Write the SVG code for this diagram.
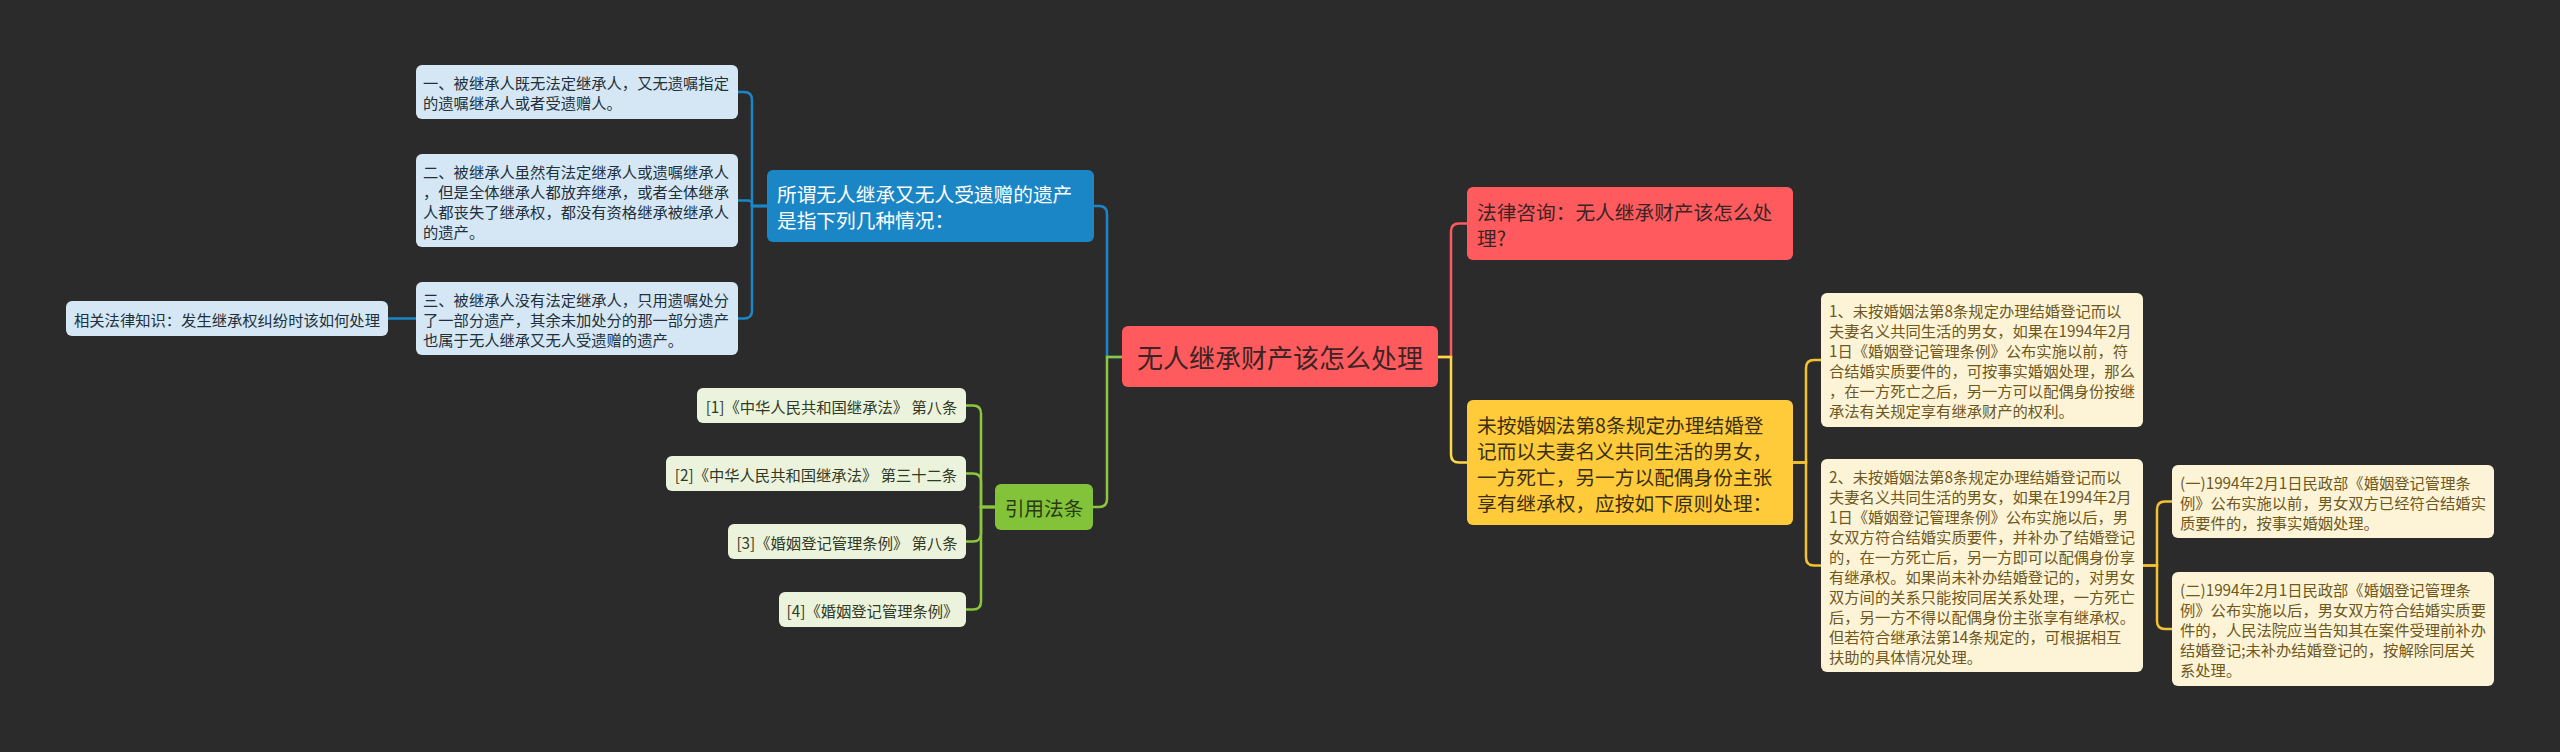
<svg xmlns="http://www.w3.org/2000/svg" width="2560" height="752" viewBox="0 0 2560 752">
<style>
text{font-family:"Noto Sans CJK SC","Noto Sans",sans-serif;dominant-baseline:central}
.s{font-size:15.3px}
.m{font-size:19.7px}
.c{font-size:26px}
.lb rect{fill:#d5e7f5}
.lb text{fill:#22303b}
.cr rect{fill:#fdf4d8}
.cr text{fill:#6e581c}
.ct rect{fill:#ebf3dd}
.ct text{fill:#323a26}
.conn path{fill:none;stroke-width:2.5}
</style>
<rect x="0" y="0" width="2560" height="752" fill="#2b2b2b"/>
<g class="conn">
<path d="M1438 357 H1451 V231.5 Q1451 223.5 1459 223.5 H1467" stroke="#ff5a5f"/>
<path d="M1438 357 H1451 V454.5 Q1451 462.5 1459 462.5 H1467" stroke="#ffd84a"/>
<path d="M1793 462.5 H1806 V368 Q1806 360 1814 360 H1821" stroke="#f2c233"/>
<path d="M1793 462.5 H1806 V557.5 Q1806 565.5 1814 565.5 H1821" stroke="#f2c233"/>
<path d="M2143 565.5 H2157 V509.5 Q2157 501.5 2165 501.5 H2172" stroke="#f2c233"/>
<path d="M2143 565.5 H2157 V621 Q2157 629 2165 629 H2172" stroke="#f2c233"/>
<path d="M1122 357 H1107 V214 Q1107 206 1099 206 H1094" stroke="#1b86c6"/>
<path d="M1122 357 H1107 V499 Q1107 507 1099 507 H1093" stroke="#8cc63f"/>
<path d="M767 206 H752 V100 Q752 92 744 92 H738" stroke="#1b86c6"/>
<path d="M767 206 H752 V204 Q752 200.5 748 200.5 H738" stroke="#1b86c6"/>
<path d="M767 206 H752 V310.5 Q752 318.5 744 318.5 H738" stroke="#1b86c6"/>
<path d="M416 318.5 H388" stroke="#1b86c6"/>
<path d="M995 507 H981 V413.5 Q981 405.5 973 405.5 H966" stroke="#8cc63f"/>
<path d="M995 507 H981 V481.5 Q981 473.5 973 473.5 H966" stroke="#8cc63f"/>
<path d="M995 507 H981 V533.5 Q981 541.5 973 541.5 H966" stroke="#8cc63f"/>
<path d="M995 507 H981 V601.5 Q981 609.5 973 609.5 H966" stroke="#8cc63f"/>
</g>
<g id="root">
<rect x="1122" y="326" width="316" height="61" rx="6" fill="#ff5b5e"/>
<text class="c" x="1280" y="356.5" text-anchor="middle" fill="#3a2424">无人继承财产该怎么处理</text>
</g>
<g id="n-consult">
<rect x="1467" y="187" width="326" height="73" rx="6" fill="#ff5b5e"/>
<text class="m" fill="#3a2424"><tspan x="1477" y="210.5">法律咨询：无人继承财产该怎么处</tspan><tspan x="1477" y="236.5">理?</tspan></text>
</g>
<g id="n-yellow">
<rect x="1467" y="400" width="326" height="125" rx="6" fill="#ffcb3b"/>
<text class="m" fill="#3b2f12"><tspan x="1477" y="423.5">未按婚姻法第8条规定办理结婚登</tspan><tspan x="1477" y="449.5">记而以夫妻名义共同生活的男女，</tspan><tspan x="1477" y="475.5">一方死亡，另一方以配偶身份主张</tspan><tspan x="1477" y="501.5">享有继承权，应按如下原则处理：</tspan></text>
</g>
<g id="n-c1" class="cr">
<rect x="1821" y="293" width="322" height="134" rx="6"/>
<text class="s"><tspan x="1829" y="310">1、未按婚姻法第8条规定办理结婚登记而以</tspan><tspan x="1829" y="330">夫妻名义共同生活的男女，如果在1994年2月</tspan><tspan x="1829" y="350">1日《婚姻登记管理条例》公布实施以前，符</tspan><tspan x="1829" y="370">合结婚实质要件的，可按事实婚姻处理，那么</tspan><tspan x="1829" y="390">，在一方死亡之后，另一方可以配偶身份按继</tspan><tspan x="1829" y="410">承法有关规定享有继承财产的权利。</tspan></text>
</g>
<g id="n-c2" class="cr">
<rect x="1821" y="459" width="322" height="213" rx="6"/>
<text class="s"><tspan x="1829" y="475.5">2、未按婚姻法第8条规定办理结婚登记而以</tspan><tspan x="1829" y="495.5">夫妻名义共同生活的男女，如果在1994年2月</tspan><tspan x="1829" y="515.5">1日《婚姻登记管理条例》公布实施以后，男</tspan><tspan x="1829" y="535.5">女双方符合结婚实质要件，并补办了结婚登记</tspan><tspan x="1829" y="555.5">的，在一方死亡后，另一方即可以配偶身份享</tspan><tspan x="1829" y="575.5">有继承权。如果尚未补办结婚登记的，对男女</tspan><tspan x="1829" y="595.5">双方间的关系只能按同居关系处理，一方死亡</tspan><tspan x="1829" y="615.5">后，另一方不得以配偶身份主张享有继承权。</tspan><tspan x="1829" y="635.5">但若符合继承法第14条规定的，可根据相互</tspan><tspan x="1829" y="655.5">扶助的具体情况处理。</tspan></text>
</g>
<g id="n-c2a" class="cr">
<rect x="2172" y="465" width="322" height="73" rx="6"/>
<text class="s"><tspan x="2180" y="481.5">(一)1994年2月1日民政部《婚姻登记管理条</tspan><tspan x="2180" y="501.5">例》公布实施以前，男女双方已经符合结婚实</tspan><tspan x="2180" y="521.5">质要件的，按事实婚姻处理。</tspan></text>
</g>
<g id="n-c2b" class="cr">
<rect x="2172" y="572" width="322" height="114" rx="6"/>
<text class="s"><tspan x="2180" y="589">(二)1994年2月1日民政部《婚姻登记管理条</tspan><tspan x="2180" y="609">例》公布实施以后，男女双方符合结婚实质要</tspan><tspan x="2180" y="629">件的，人民法院应当告知其在案件受理前补办</tspan><tspan x="2180" y="649">结婚登记;未补办结婚登记的，按解除同居关</tspan><tspan x="2180" y="669">系处理。</tspan></text>
</g>
<g id="n-blue">
<rect x="767" y="170" width="327" height="72" rx="6" fill="#1b86c6"/>
<text class="m" fill="#ffffff"><tspan x="777" y="193">所谓无人继承又无人受遗赠的遗产</tspan><tspan x="777" y="219">是指下列几种情况：</tspan></text>
</g>
<g id="n-l1" class="lb">
<rect x="416" y="65" width="322" height="54" rx="6"/>
<text class="s"><tspan x="423" y="82">一、被继承人既无法定继承人，又无遗嘱指定</tspan><tspan x="423" y="102">的遗嘱继承人或者受遗赠人。</tspan></text>
</g>
<g id="n-l2" class="lb">
<rect x="416" y="154" width="322" height="93" rx="6"/>
<text class="s"><tspan x="423" y="170.5">二、被继承人虽然有法定继承人或遗嘱继承人</tspan><tspan x="423" y="190.5">，但是全体继承人都放弃继承，或者全体继承</tspan><tspan x="423" y="210.5">人都丧失了继承权，都没有资格继承被继承人</tspan><tspan x="423" y="230.5">的遗产。</tspan></text>
</g>
<g id="n-l3" class="lb">
<rect x="416" y="282" width="322" height="73" rx="6"/>
<text class="s"><tspan x="423" y="298.5">三、被继承人没有法定继承人，只用遗嘱处分</tspan><tspan x="423" y="318.5">了一部分遗产，其余未加处分的那一部分遗产</tspan><tspan x="423" y="338.5">也属于无人继承又无人受遗赠的遗产。</tspan></text>
</g>
<g id="n-far" class="lb">
<rect x="66" y="301" width="322" height="35" rx="6"/>
<text class="s" x="74" y="318.5">相关法律知识：发生继承权纠纷时该如何处理</text>
</g>
<g id="n-cite">
<rect x="995" y="484" width="98" height="46" rx="6" fill="#82c33a"/>
<text class="m" x="1044" y="507" text-anchor="middle" fill="#2b3a14">引用法条</text>
</g>
<g id="n-cite1" class="ct">
<rect x="697" y="388" width="269" height="35" rx="6"/>
<text class="s" x="831.5" y="405.5" text-anchor="middle">[1]《中华人民共和国继承法》 第八条</text>
</g>
<g id="n-cite2" class="ct">
<rect x="666" y="456" width="300" height="35" rx="6"/>
<text class="s" x="816" y="473.5" text-anchor="middle">[2]《中华人民共和国继承法》 第三十二条</text>
</g>
<g id="n-cite3" class="ct">
<rect x="728" y="524" width="238" height="35" rx="6"/>
<text class="s" x="847" y="541.5" text-anchor="middle">[3]《婚姻登记管理条例》 第八条</text>
</g>
<g id="n-cite4" class="ct">
<rect x="779" y="592" width="187" height="35" rx="6"/>
<text class="s" x="872.5" y="609.5" text-anchor="middle">[4]《婚姻登记管理条例》</text>
</g>
</svg>
